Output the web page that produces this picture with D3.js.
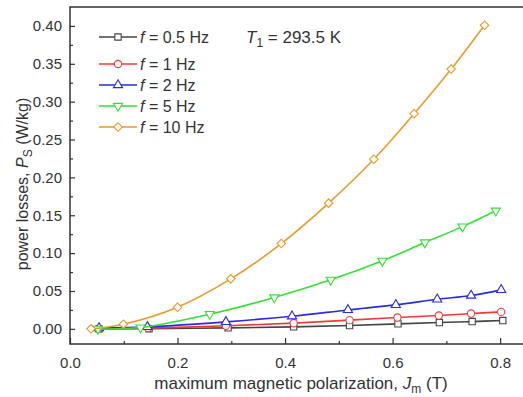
<!DOCTYPE html>
<html>
<head>
<script src="https://cdn.jsdelivr.net/npm/d3@7"></script>
<style>
  body { margin: 0; background: #fff; }
  text { font-family: "Liberation Sans", Arial, sans-serif; fill: #333; }
</style>
</head>
<body>
<svg width="523" height="397"></svg>
<script>
// data
const labels = ["0.5 Hz", "1 Hz", "2 Hz", "5 Hz", "10 Hz"]
const colors = ["#444444", "#f03a3a", "#2a2ae0", "#33e033", "#e89a2c"]
const shapes = ["square", "circle", "triangle", "triangleDown", "diamond"]

const jm_05 = [0.054, 0.147, 0.294, 0.416, 0.52, 0.61, 0.687, 0.748, 0.805]
const ps_05 = [0.0, 0.0002, 0.0013, 0.0026, 0.0044, 0.0066, 0.0083, 0.0096, 0.011]
const jm_1 = [0.054, 0.145, 0.29, 0.416, 0.52, 0.609, 0.686, 0.746, 0.802]
const ps_1 = [0.0, 0.001, 0.004, 0.0075, 0.0115, 0.0149, 0.0176, 0.0202, 0.0224]
const jm_2 = [0.054, 0.144, 0.29, 0.413, 0.517, 0.606, 0.683, 0.746, 0.802]
const ps_2 = [0.001, 0.0026, 0.0092, 0.0167, 0.025, 0.0317, 0.039, 0.044, 0.0515]
const jm_5 = [0.052, 0.131, 0.26, 0.38, 0.485, 0.581, 0.66, 0.73, 0.792]
const ps_5 = [0.0, 0.0017, 0.0194, 0.0414, 0.0647, 0.0898, 0.114, 0.135, 0.156]
const jm_10 = [0.039, 0.0995, 0.2, 0.299, 0.393, 0.481, 0.565, 0.64, 0.709, 0.771]
const ps_10 = [0.0, 0.0062, 0.0286, 0.066, 0.1126, 0.166, 0.224, 0.284, 0.343, 0.401]

const xs = [jm_05, jm_1, jm_2, jm_5, jm_10]
const ys = [ps_05, ps_1, ps_2, ps_5, ps_10]

const xTicks = [0.0, 0.2, 0.4, 0.6, 0.8]
const yTicks = [0.00, 0.05, 0.10, 0.15, 0.20, 0.25, 0.30, 0.35, 0.40]

const svg = d3.select("svg")
const pLeft = 70, pRight = 527, pTop = 7, pBottom = 344

const x = d3.scaleLinear().domain([0, 0.85]).range([pLeft, pRight])
const y = d3.scaleLinear().domain([-0.02, 0.425]).range([pBottom, pTop])

// frame
svg.append("rect")
  .attr("x", pLeft).attr("y", pTop)
  .attr("width", pRight - pLeft).attr("height", pBottom - pTop)
  .attr("fill", "none").attr("stroke", "#333").attr("stroke-width", 1.5)

// x axis
const xAxis = svg.append("g").attr("transform", "translate(0," + pBottom + ")")
  .call(d3.axisBottom(x).tickValues(xTicks).tickFormat(d3.format(".1f")).tickSizeInner(-6).tickSizeOuter(0).tickPadding(13))
xAxis.select(".domain").remove()
xAxis.selectAll("line").attr("stroke", "#333").attr("stroke-width", 1.2)
xAxis.selectAll("text").style("font-size", "15px").attr("fill", "#444")
svg.append("g").attr("transform", "translate(0," + pBottom + ")")
  .call(d3.axisBottom(x).tickValues([0.1, 0.3, 0.5, 0.7]).tickFormat("").tickSizeInner(-3).tickSizeOuter(0))
  .call(g => g.select(".domain").remove())
  .selectAll("line").attr("stroke", "#333").attr("stroke-width", 1.2)

// y axis
const yAxis = svg.append("g").attr("transform", "translate(" + pLeft + ",0)")
  .call(d3.axisLeft(y).tickValues(yTicks).tickFormat(d3.format(".2f")).tickSizeInner(-5).tickSizeOuter(0).tickPadding(8))
yAxis.select(".domain").remove()
yAxis.selectAll("line").attr("stroke", "#333").attr("stroke-width", 1.2)
yAxis.selectAll("text").style("font-size", "15px").attr("fill", "#444")
svg.append("g").attr("transform", "translate(" + pLeft + ",0)")
  .call(d3.axisLeft(y).tickValues(d3.range(-0.025, 0.41, 0.05).filter(v => v > -0.02)).tickFormat("").tickSizeInner(-3).tickSizeOuter(0))
  .call(g => g.select(".domain").remove())
  .selectAll("line").attr("stroke", "#333").attr("stroke-width", 1.2)

// axis titles
const xl = svg.append("text").attr("x", 301).attr("y", 389).attr("text-anchor", "middle").style("font-size", "17px")
xl.append("tspan").text("maximum magnetic polarization, ")
xl.append("tspan").attr("font-style", "italic").text("J")
xl.append("tspan").attr("dy", 4).style("font-size", "12px").text("m")
xl.append("tspan").attr("dy", -4).text(" (T)")

const yl = svg.append("text").attr("transform", "translate(28,184) rotate(-90)").attr("text-anchor", "middle").style("font-size", "16px")
yl.append("tspan").text("power losses, ")
yl.append("tspan").attr("font-style", "italic").text("P")
yl.append("tspan").attr("dy", 4).style("font-size", "12px").text("S")
yl.append("tspan").attr("dy", -4).text(" (W/kg)")

// marker symbols
function symbolPath(shape) {
  const m = {square: d3.symbolSquare, circle: d3.symbolCircle, triangle: d3.symbolTriangle,
             triangleDown: d3.symbolTriangle, diamond: d3.symbolSquare}
  const sz = {square: 40, circle: 42, triangle: 36, triangleDown: 36, diamond: 36}
  return d3.symbol().type(m[shape]).size(sz[shape])()
}
function symbolRot(shape) {
  if (shape === "triangleDown") return " rotate(180)"
  if (shape === "diamond") return " rotate(45)"
  return ""
}

const line = d3.line().x(d => x(d[0])).y(d => y(d[1])).curve(d3.curveCatmullRom)

labels.forEach((lab, i) => {
  const pts = xs[i].map((v, j) => [v, ys[i][j]])
  svg.append("path").datum(pts).attr("d", line)
    .attr("fill", "none").attr("stroke", colors[i]).attr("stroke-width", 1.6)
  svg.append("g").selectAll("path").data(pts).enter().append("path")
    .attr("d", symbolPath(shapes[i]))
    .attr("transform", d => "translate(" + x(d[0]) + "," + y(d[1]) + ")" + symbolRot(shapes[i]))
    .attr("fill", "#fff").attr("stroke", colors[i]).attr("stroke-width", 1.1)
})

// legend
const legY = [37, 64, 85, 106, 127]
labels.forEach((lab, i) => {
  const g = svg.append("g").attr("transform", "translate(0," + legY[i] + ")")
  g.append("line").attr("x1", 99).attr("x2", 137).attr("y1", 0).attr("y2", 0)
    .attr("stroke", colors[i]).attr("stroke-width", 1.6)
  g.append("path").attr("d", symbolPath(shapes[i]))
    .attr("transform", "translate(118,0)" + symbolRot(shapes[i]))
    .attr("fill", "#fff").attr("stroke", colors[i]).attr("stroke-width", 1.1)
  const t = g.append("text").attr("x", 140).attr("y", 6).style("font-size", "16px")
  t.append("tspan").attr("font-style", "italic").text("f")
  t.append("tspan").text(" = " + lab)
})

const tt = svg.append("text").attr("x", 246).attr("y", 43).style("font-size", "17px")
tt.append("tspan").attr("font-style", "italic").text("T")
tt.append("tspan").attr("dy", 4).style("font-size", "12px").text("1")
tt.append("tspan").attr("dy", -4).text(" = 293.5 K")
</script>
</body>
</html>
